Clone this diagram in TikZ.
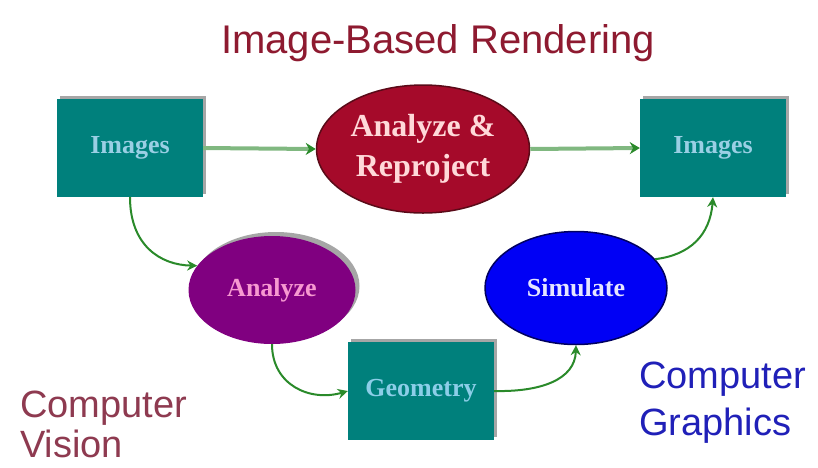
\documentclass[tikz,border=0pt]{standalone}
\usepackage{fontspec}
\setmainfont{Liberation Serif}
\newfontfamily\sansf{Liberation Sans}
\usetikzlibrary{shapes.geometric,arrows.meta,shadows}
\definecolor{tealbox}{HTML}{00807C}
\definecolor{redell}{HTML}{A50A2A}
\definecolor{redborder}{HTML}{5A0A18}
\definecolor{purpell}{HTML}{800080}
\definecolor{blueell}{HTML}{0000F5}
\definecolor{blueborder}{HTML}{000060}
\definecolor{arrowgreen}{HTML}{2A8A2A}
\definecolor{lightgreen}{HTML}{80B880}
\definecolor{titlered}{HTML}{8E1A30}
\definecolor{visionred}{HTML}{8E3A50}
\definecolor{graphblue}{HTML}{2020B8}
\tikzset{
  boxnode/.style={rectangle, fill=tealbox, minimum width=146pt, minimum height=98pt, inner sep=0pt,
    drop shadow={shadow xshift=3pt, shadow yshift=3pt, fill=gray!70, opacity=1},
    font=\fontsize{26}{30}\selectfont\bfseries},
  ellnode/.style={ellipse, inner sep=0pt, font=\fontsize{26}{30}\selectfont\bfseries},
  straightarrow/.style={line width=4pt, draw=lightgreen, -{Stealth[length=10pt,width=12pt,fill=arrowgreen,color=arrowgreen]}},
  curvearrow/.style={line width=2pt, draw=arrowgreen, -{Stealth[length=10pt,width=10pt]}},
  biglabel/.style={font=\sansf\fontsize{38}{47}\selectfont, inner sep=0pt}
}
\begin{document}
\begin{tikzpicture}[x=1pt,y=-1pt]
\useasboundingbox (0,0) rectangle (818,467);
\fill[white] (0,0) rectangle (818,467);
\node[font=\sansf\fontsize{40}{46}\selectfont, text=titlered, anchor=base, inner sep=0pt] (title) at (438,53) {Image-Based Rendering};

\node[boxnode, text=cyan!30!white!80!teal] (img1) at (130,148) {Images};
\node[boxnode, text=cyan!30!white!80!teal] (img2) at (713,148) {Images};
\node[ellnode, fill=redell, draw=redborder, line width=1.5pt, minimum width=213pt, minimum height=128pt,
  text=pink!60!white, align=center, font=\fontsize{32}{40}\selectfont\bfseries] (ar) at (423,149) {Analyze \&\\Reproject};
\node[ellnode, fill=purpell, minimum width=167pt, minimum height=108pt, text=magenta!40!white,
  drop shadow={shadow xshift=4pt, shadow yshift=4pt, fill=gray!70, opacity=1}] (ana) at (272,290) {Analyze};
\node[ellnode, fill=blueell, draw=blueborder, line width=1.5pt, minimum width=182pt, minimum height=113pt,
  text=blue!10!white] (sim) at (576,288) {Simulate};
\node[boxnode, text=cyan!40!white!85!teal] (geo) at (421,391) {Geometry};

\node[biglabel, text=visionred, anchor=base west, align=left, font=\sansf\fontsize{38}{40}\selectfont] (cv) at (20,457) {Computer\\Vision};
\node[biglabel, text=graphblue, anchor=base west, align=left] (cg) at (639,435) {Computer\\Graphics};

\draw[straightarrow] (img1.east) -- (ar.west);
\draw[straightarrow] (ar.east) -- (img2.west);
\draw[curvearrow] (img1.south) .. controls (130,245) and (160,265) .. (ana.162);
\draw[curvearrow] (ana.south) .. controls (272,385) and (310,402) .. (geo.west);
\draw[curvearrow] (geo.east) .. controls (540,392) and (575,380) .. (sim.south);
\draw[curvearrow] (sim.20) .. controls (690,255) and (710,235) .. (img2.south);
\end{tikzpicture}
\end{document}
